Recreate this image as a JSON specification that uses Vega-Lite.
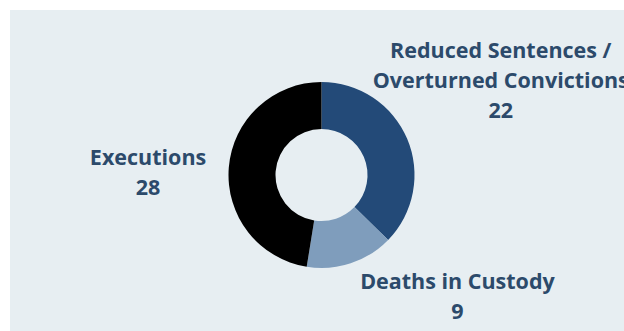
{
  "$schema": "https://vega.github.io/schema/vega-lite/v6.json",
  "width": 614,
  "height": 321,
  "autosize": "none",
  "padding": {"left": 10, "top": 10, "right": 0, "bottom": 0},
  "background": "#ffffff",
  "view": {"fill": "#e7eef2", "stroke": null},
  "config": {"view": {"fill": "#e7eef2", "stroke": null}},
  "data": {
    "values": [
      {"category": "Reduced Sentences /\nOverturned Convictions", "key": "reduced", "count": 22, "rank": 1},
      {"category": "Deaths in Custody", "key": "deaths", "count": 9, "rank": 2},
      {"category": "Executions", "key": "executions", "count": 28, "rank": 3}
    ]
  },
  "transform": [
    {"calculate": "datum.category + '\\n' + datum.count", "as": "label"}
  ],
  "encoding": {
    "theta": {"field": "count", "type": "quantitative", "stack": true},
    "order": {"field": "rank", "type": "quantitative"}
  },
  "layer": [
    {
      "mark": {"type": "arc", "outerRadius": 93, "innerRadius": 46, "xOffset": 4.5, "yOffset": 4.5, "stroke": null},
      "encoding": {
        "color": {
          "field": "key",
          "type": "nominal",
          "scale": {"domain": ["reduced", "deaths", "executions"], "range": ["#234a78", "#7f9dbc", "#000000"]},
          "legend": null
        }
      }
    },
    {
      "mark": {"type": "text", "radius": 200, "xOffset": 4.5, "yOffset": 4.5, "dx": -5, "dy": -45, "lineBreak": "\n", "font": "Open Sans", "fontWeight": "bold", "fontSize": 21.5, "lineHeight": 30, "align": "center", "baseline": "middle", "fill": "#2c4a6b"},
      "encoding": {
        "text": {"condition": {"test": "datum.key === 'reduced'", "field": "label"}, "value": ""}
      }
    },
    {
      "mark": {"type": "text", "radius": 140, "xOffset": 4.5, "yOffset": 4.5, "dx": 92, "dy": -25, "lineBreak": "\n", "font": "Open Sans", "fontWeight": "bold", "fontSize": 21.5, "lineHeight": 30, "align": "center", "baseline": "middle", "fill": "#2c4a6b"},
      "encoding": {
        "text": {"condition": {"test": "datum.key === 'deaths'", "field": "label"}, "value": ""}
      }
    },
    {
      "mark": {"type": "text", "radius": 174, "xOffset": 4.5, "yOffset": 4.5, "dx": 0, "dy": -2, "lineBreak": "\n", "font": "Open Sans", "fontWeight": "bold", "fontSize": 21.5, "lineHeight": 30, "align": "center", "baseline": "middle", "fill": "#2c4a6b"},
      "encoding": {
        "text": {"condition": {"test": "datum.key === 'executions'", "field": "label"}, "value": ""}
      }
    }
  ]
}
